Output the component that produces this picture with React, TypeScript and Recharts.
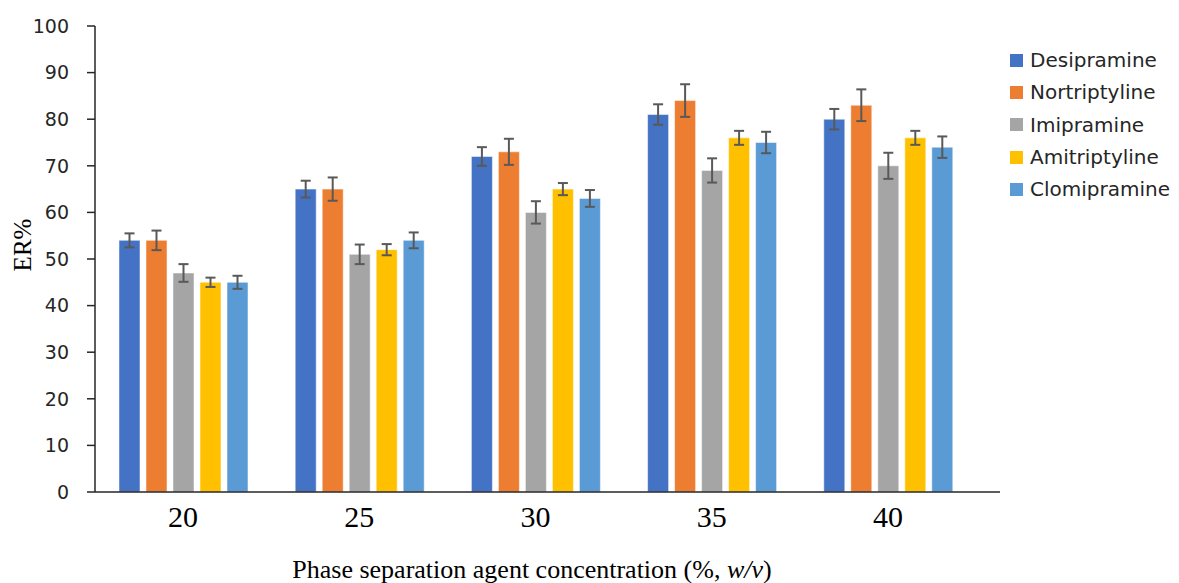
import React from 'react';
import { BarChart, Bar, XAxis, YAxis, ErrorBar, Legend } from 'recharts';

const categories = ['20', '25', '30', '35', '40'];
const seriesNames = ['Desipramine', 'Nortriptyline', 'Imipramine', 'Amitriptyline', 'Clomipramine'];
const seriesColors = ['#4472C4', '#ED7D31', '#A5A5A5', '#FFC000', '#5B9BD5'];

const desipramine = [54, 65, 72, 81, 80];
const nortriptyline = [54, 65, 73, 84, 83];
const imipramine = [47, 51, 60, 69, 70];
const amitriptyline = [45, 52, 65, 76, 76];
const clomipramine = [45, 54, 63, 75, 74];

const desipramineErr = [1.5, 1.8, 2.0, 2.2, 2.2];
const nortriptylineErr = [2.1, 2.5, 2.8, 3.5, 3.4];
const imipramineErr = [1.9, 2.1, 2.4, 2.6, 2.8];
const amitriptylineErr = [1.0, 1.2, 1.3, 1.5, 1.5];
const clomipramineErr = [1.4, 1.7, 1.8, 2.3, 2.3];

const yTicks = [0, 10, 20, 30, 40, 50, 60, 70, 80, 90, 100];

const seriesValues = [desipramine, nortriptyline, imipramine, amitriptyline, clomipramine];
const seriesErrors = [desipramineErr, nortriptylineErr, imipramineErr, amitriptylineErr, clomipramineErr];

const data = categories.map((c, i) => {
  const row: Record<string, string | number> = { cat: c };
  seriesValues.forEach((vals, k) => {
    row['s' + k] = vals[i];
    row['e' + k] = seriesErrors[k][i];
  });
  return row;
});

const AXIS_COLOR = '#262626';

const XTick = (props: any) => {
  const { x, y, payload } = props;
  return (
    <text x={x} y={y} dy={27} textAnchor="middle" fontFamily="Liberation Serif" fontSize={30} fill="#000">
      {payload.value}
    </text>
  );
};

const renderLegend = (props: any) => {
  const payload = [...(props.payload || [])].sort(
    (a: any, b: any) => seriesNames.indexOf(a.value) - seriesNames.indexOf(b.value)
  );
  return (
    <div style={{ fontFamily: 'DejaVu Sans', fontSize: 20, color: '#262626' }}>
      {payload.map((p: any, i: number) => (
        <div key={i} style={{ display: 'flex', alignItems: 'center', height: 32.3 }}>
          <span style={{ display: 'inline-block', width: 13, height: 13, background: p.color, marginRight: 7 }} />
          <span>{p.value}</span>
        </div>
      ))}
    </div>
  );
};

export default function App() {
  return (
    <div style={{ position: 'absolute', left: 0, top: 0, width: 1179, height: 583, background: '#fff' }}>
      <BarChart
        width={1179}
        height={583}
        data={data}
        margin={{ top: 26, right: 179, bottom: 0, left: 0 }}
        barSize={21}
        barGap={6}
      >
        <YAxis
          width={95}
          domain={[0, 100]}
          ticks={yTicks}
          interval={0}
          tickSize={8}
          tickMargin={18}
          axisLine={{ stroke: AXIS_COLOR, strokeWidth: 1.5 }}
          tickLine={{ stroke: AXIS_COLOR, strokeWidth: 1.5 }}
          tick={{ fontFamily: 'DejaVu Sans', fontSize: 19, fill: '#262626' }}
          label={() => (
            <text
              x={22}
              y={245}
              transform="rotate(-90 22 245)"
              textAnchor="middle"
              dominantBaseline="central"
              fontFamily="Liberation Serif"
              fontSize={25}
              fill="#000"
            >
              ER%
            </text>
          )}
        />
        <XAxis
          dataKey="cat"
          height={91}
          padding={{ left: 0, right: 24 }}
          tickLine={false}
          axisLine={{ stroke: AXIS_COLOR, strokeWidth: 1.5 }}
          tick={<XTick />}
          interval={0}
          label={() => (
            <text x={532} y={578} textAnchor="middle" fontFamily="Liberation Serif" fontSize={26} fill="#000">
              Phase separation agent concentration (%, <tspan fontStyle="italic">w/v</tspan>)
            </text>
          )}
        />
        <Legend
          layout="vertical"
          align="center"
          verticalAlign="middle"
          itemSorter={null as any}
          content={renderLegend}
          wrapperStyle={{ left: 1010, top: 44, width: 169 }}
        />
        {seriesNames.map((name, k) => (
          <Bar
            key={name}
            dataKey={'s' + k}
            name={name}
            fill={seriesColors[k]}
            stroke="#ffffff"
            strokeOpacity={0.5}
            isAnimationActive={false}
          >
            <ErrorBar dataKey={'e' + k} width={5} stroke="#595959" strokeWidth={2} />
          </Bar>
        ))}
      </BarChart>
    </div>
  );
}
